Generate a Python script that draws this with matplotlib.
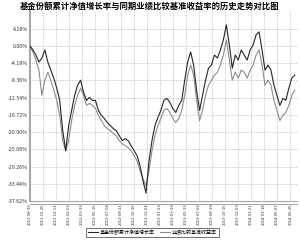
import matplotlib
matplotlib.use("Agg")
import matplotlib.pyplot as plt
import numpy as np

plt.rcParams['font.family'] = ['Noto Sans CJK SC', 'DejaVu Sans']

title = "基金份额累计净值增长率与同期业绩比较基准收益率的历史走势对比图"
series_names = ["基金份额累计净值增长率", "业绩比较基准收益率"]

x_labels = ["2011-08-30", "2011-10-25", "2011-12-13", "2012-02-06", "2012-03-26",
            "2012-05-15", "2012-07-04", "2012-08-21", "2012-10-16", "2012-12-04",
            "2013-01-23", "2013-03-20", "2013-05-13", "2013-07-02", "2013-08-20",
            "2013-10-15", "2013-12-03", "2014-01-21", "2014-03-18", "2014-05-07",
            "2014-06-25"]
label_every = 35     # trading days between labels
sample_step = 8      # trading days between samples

y_ticks = [4.18, 0.00, -4.18, -8.36, -12.54, -16.72, -20.90, -25.08, -29.26, -33.44, -37.62]

fund_px = [46, 50, 55, 62, 58, 50, 62, 70, 78, 88, 100, 130, 150, 125, 110, 95, 85, 80,
           92, 100, 97, 100, 100, 110, 115, 118, 122, 125, 128, 130, 135, 140, 138, 140,
           145, 150, 155, 165, 180, 192, 160, 140, 125, 117, 110, 100, 98, 102, 108, 112,
           105, 100, 80, 62, 52, 65, 90, 110, 95, 80, 68, 65, 55, 58, 50, 40, 25, 45, 68,
           55, 60, 50, 55, 60, 50, 45, 35, 32, 50, 70, 65, 70, 85, 95, 105, 98, 100, 88,
           78, 75]
bench_px = [46, 52, 60, 70, 95, 80, 72, 80, 90, 100, 115, 140, 150, 140, 120, 105, 95, 88,
            95, 105, 103, 105, 108, 115, 120, 125, 128, 130, 133, 135, 140, 143, 145, 147,
            150, 155, 160, 170, 178, 185, 170, 150, 135, 125, 118, 110, 108, 112, 118, 122,
            118, 110, 95, 75, 65, 75, 100, 120, 110, 95, 85, 80, 75, 72, 65, 55, 40, 60, 80,
            72, 78, 70, 72, 78, 70, 65, 55, 50, 65, 85, 80, 85, 100, 110, 120, 115, 112, 105,
            95, 90]

fund = [round(-(p - 46) * 0.2444, 2) for p in fund_px]
bench = [round(-(p - 46) * 0.2444, 2) for p in bench_px]

fig = plt.figure(figsize=(3.0, 2.42), dpi=100)
ax = fig.add_axes([0.10, 0.169, 0.89, 0.786])

xs = np.arange(len(fund)) * sample_step
l_bench, = ax.plot(xs, bench, color="#8c8c8c", lw=0.8, label=series_names[1], zorder=3)
l_fund, = ax.plot(xs, fund, color="#262626", lw=0.8, label=series_names[0], zorder=4)

xt = np.arange(len(x_labels)) * label_every
ax.set_xticks(xt)
ax.set_xticklabels(x_labels, rotation=90, fontsize=3.0, color="#333333")
ax.set_xlim(0, 718)
ax.set_yticks(y_ticks)
ax.set_yticklabels([f"{v:.2f}%" for v in y_ticks], fontsize=3.8, color="#333333")
ax.set_ylim(-37.62, 8.5)
ax.tick_params(length=0, pad=1.5)

ax.grid(True, color="#a0a0a0", lw=0.5, ls=(0, (1, 1.5)))
for s in ["top", "right"]:
    ax.spines[s].set_visible(False)
ax.spines["left"].set_color("#a8a8a8")
ax.spines["left"].set_linewidth(1.5)
ax.spines["bottom"].set_color("#a8a8a8")
ax.spines["bottom"].set_linewidth(0.8)
ax.plot([0, 1], [-0.013, -0.013], transform=ax.transAxes, color="#a8a8a8", lw=0.8, clip_on=False)

fig.text(0.5, 0.975, title, ha="center", va="center", fontsize=6.0, fontweight="bold")

leg = fig.legend(handles=[l_fund, l_bench], labels=series_names, loc="center",
                 bbox_to_anchor=(0.508, 0.04), ncol=2, fontsize=3.6, frameon=True,
                 fancybox=False, edgecolor="#333333", handlelength=2.0, handletextpad=0.4,
                 columnspacing=1.0, borderpad=0.4)
leg.get_frame().set_linewidth(0.6)

fig.savefig("out.png", dpi=100)
